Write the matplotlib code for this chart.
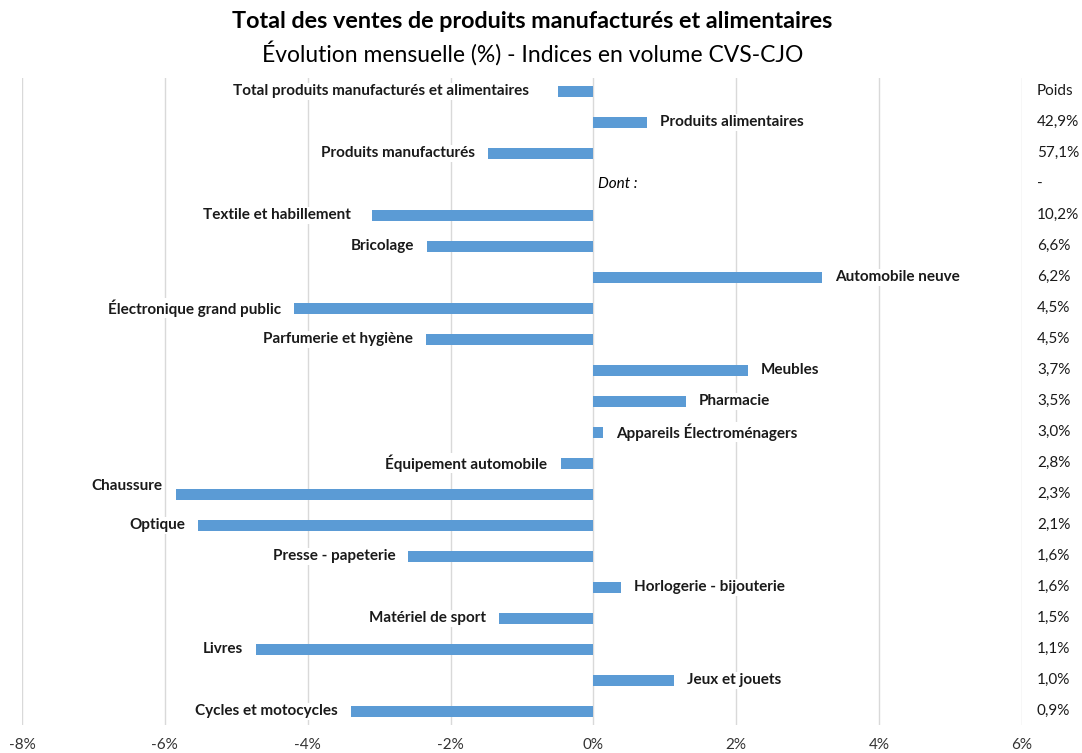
import matplotlib
matplotlib.use("Agg")
import matplotlib.pyplot as plt
import matplotlib.transforms as mtransforms

plt.rcParams['font.family'] = ['Lato', 'DejaVu Sans']

# données
categories = ["Total produits manufacturés et alimentaires", "Produits alimentaires",
              "Produits manufacturés", "Dont :", "Textile et habillement", "Bricolage",
              "Automobile neuve", "Électronique grand public", "Parfumerie et hygiène",
              "Meubles", "Pharmacie", "Appareils Électroménagers", "Équipement automobile",
              "Chaussure", "Optique", "Presse - papeterie", "Horlogerie - bijouterie",
              "Matériel de sport", "Livres", "Jeux et jouets", "Cycles et motocycles"]
evolution = [-0.50, 0.75, -1.48, None, -3.10, -2.33, 3.20, -4.19, -2.35,
             2.16, 1.29, 0.14, -0.46, -5.85, -5.53, -2.59, 0.39,
             -1.32, -4.72, 1.13, -3.39]
poids = ["42,9%", "57,1%", "-", "10,2%", "6,6%", "6,2%", "4,5%", "4,5%",
         "3,7%", "3,5%", "3,0%", "2,8%", "2,3%", "2,1%", "1,6%", "1,6%",
         "1,5%", "1,1%", "1,0%", "0,9%"]
xticks = [-8, -6, -4, -2, 0, 2, 4, 6]

fig = plt.figure(figsize=(10.82, 7.53), dpi=100)
ax = fig.add_axes([0.0203, 0.037, 0.9242, 0.859])

ypos = list(range(len(categories)))
for y, v in zip(ypos, evolution):
    if v is None:
        continue
    ax.barh(y, v, height=0.36, color="#5b9bd5", zorder=3)

# petits décalages (px) de certains libellés, comme sur l'original
extra = {"Total produits manufacturés et alimentaires": (-16, 0),
         "Textile et habillement": (-8, 0),
         "Chaussure": (0, 8)}

for y, v, lab in zip(ypos, evolution, categories):
    dx, dy = extra.get(lab, (0, 0))
    if v is None:
        ax.annotate(lab, (0, y), xytext=(3, 0), textcoords="offset points",
                    ha="left", va="center", fontsize=11, style="italic",
                    zorder=4, bbox=dict(fc="white", ec="none", pad=1))
        continue
    if v < 0:
        off = (-9.4 + dx * 0.72, dy * 0.72)
        ha = "right"
    else:
        off = (9.4 + dx * 0.72, dy * 0.72)
        ha = "left"
    ax.annotate(lab, (v, y), xytext=off, textcoords="offset points",
                ha=ha, va="center", fontsize=11, fontweight="bold",
                color="#1a1a1a", zorder=4,
                bbox=dict(fc="white", ec="none", pad=1))

# colonne des poids
tr = mtransforms.blended_transform_factory(ax.transAxes, ax.transData)
ax.text(1.015, 0, "Poids", transform=tr, ha="left", va="center",
        fontsize=11, color="#1a1a1a")
for y, p in zip(ypos[1:], poids):
    ax.text(1.015, y, p, transform=tr, ha="left", va="center",
            fontsize=11, color="#1a1a1a")

ax.set_xlim(-8, 6)
ax.set_ylim(20.45, -0.42)
ax.set_xticks(xticks)
ax.set_xticklabels([f"{t}%" for t in xticks], fontsize=11, color="#333333")
ax.set_yticks([])
ax.grid(axis="x", color="#d9d9d9", linewidth=1, zorder=0)
ax.tick_params(axis="x", length=0, pad=9)
for s in ax.spines.values():
    s.set_visible(False)

fig.text(0.492, 0.971, "Total des ventes de produits manufacturés et alimentaires",
         ha="center", va="center", fontsize=16.8, fontweight="bold")
fig.text(0.492, 0.929, "Évolution mensuelle (%) - Indices en volume CVS-CJO",
         ha="center", va="center", fontsize=16.5)

fig.savefig("out.png", dpi=100)
